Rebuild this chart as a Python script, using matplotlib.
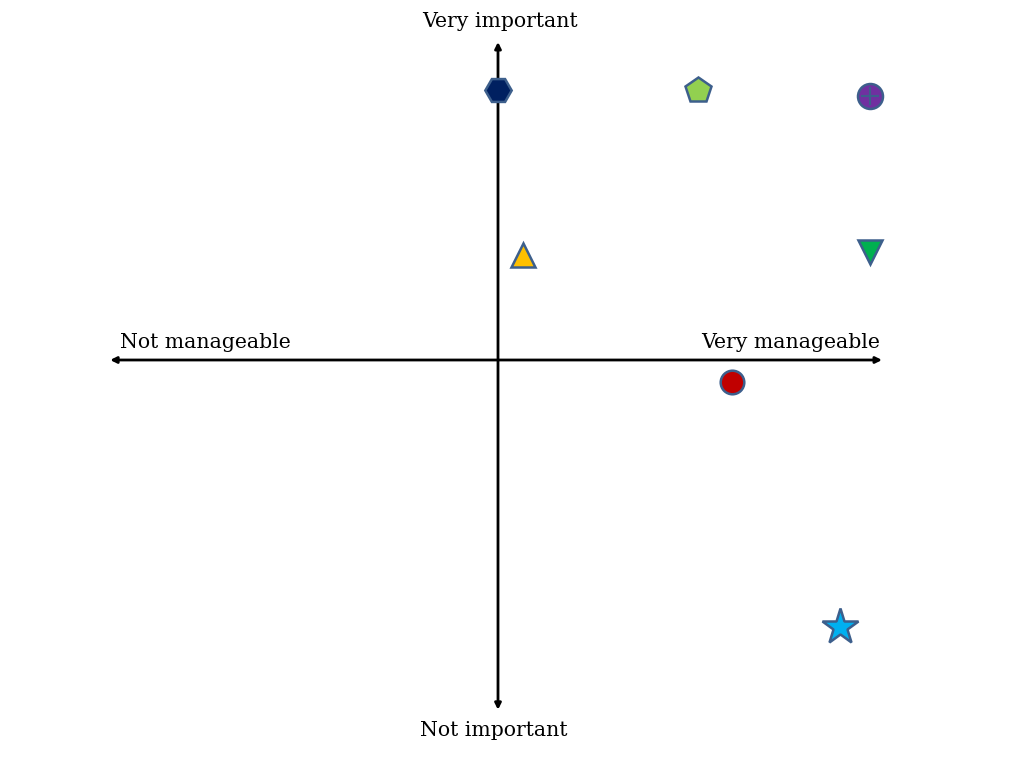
import matplotlib.pyplot as plt

# manageability (x) vs importance (y), crossing point at 0,0
items = ["A", "B", "C", "D", "E", "F", "G"]
manageability = [0.00, 0.52, 0.97, 0.065, 0.97, 0.61, 0.89]
importance = [0.85, 0.85, 0.83, 0.33, 0.34, -0.07, -0.84]

markers = ["H", "p", "o", "^", "v", "o", "*"]
fills = ["#002060", "#92D050", "#7030A0", "#FFC000", "#00B050", "#C00000", "#00B0F0"]
sizes = [19, 19, 18, 17, 17, 17, 27]
edge = "#3D5F8C"

fig = plt.figure(figsize=(10.24, 7.68), dpi=100)
ax = fig.add_axes([0, 0, 1, 1])
ax.set_xlim(-498 / 384, (1024 - 498) / 384)
ax.set_ylim(-(768 - 360) / 318, 360 / 318)
ax.axis("off")

arrow = dict(arrowstyle="<|-|>", color="black", lw=2, mutation_scale=9, shrinkA=0, shrinkB=0)
ax.annotate("", xy=(-1.01, 0), xytext=(1.0, 0), arrowprops=arrow)
ax.annotate("", xy=(0, 1.0), xytext=(0, -1.10), arrowprops=arrow)

font = dict(family="DejaVu Serif", size=14.7, color="black")
ax.text(0.005, 1.065, "Very important", ha="center", va="center", **font)
ax.text(-0.01, -1.165, "Not important", ha="center", va="center", **font)
ax.text(-0.985, 0.055, "Not manageable", ha="left", va="center", **font)
ax.text(0.995, 0.055, "Very manageable", ha="right", va="center", **font)

for x, y, m, c, s in zip(manageability, importance, markers, fills, sizes):
    ax.plot(x, y, marker=m, markersize=s, markerfacecolor=c, markeredgecolor=edge,
            markeredgewidth=1.8, linestyle="none", zorder=5)
# cross inside the purple circle
ax.plot(manageability[2], importance[2], marker="+", markersize=13, markeredgecolor=edge,
        markeredgewidth=1.5, linestyle="none", zorder=6)

fig.savefig("out.png", dpi=100)
